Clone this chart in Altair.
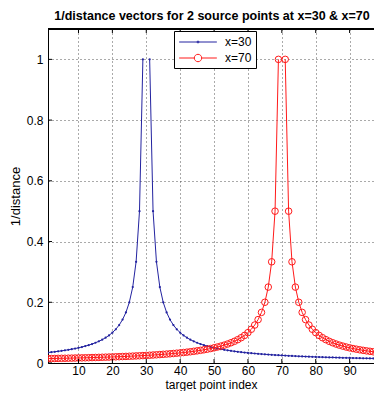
import altair as alt
import pandas as pd

FONT = "Liberation Sans"
BLUE = "#2323a0"
RED = "#ff1a1a"

IDX = list(range(1, 101))
SERIES = ["x=30", "x=70"]
SOURCE = [30, 70]
XTICKS = [10, 20, 30, 40, 50, 60, 70, 80, 90]
YTICKS = [0, 0.2, 0.4, 0.6, 0.8, 1]

X30 = [0.0345, 0.0357, 0.037, 0.0385, 0.04, 0.0417, 0.0435, 0.0455, 0.0476, 0.05,
       0.0526, 0.0556, 0.0588, 0.0625, 0.0667, 0.0714, 0.0769, 0.0833, 0.0909, 0.1,
       0.1111, 0.125, 0.1429, 0.1667, 0.2, 0.25, 0.3333, 0.5, 1.0, None,
       1.0, 0.5, 0.3333, 0.25, 0.2, 0.1667, 0.1429, 0.125, 0.1111, 0.1,
       0.0909, 0.0833, 0.0769, 0.0714, 0.0667, 0.0625, 0.0588, 0.0556, 0.0526, 0.05,
       0.0476, 0.0455, 0.0435, 0.0417, 0.04, 0.0385, 0.037, 0.0357, 0.0345, 0.0333,
       0.0323, 0.0313, 0.0303, 0.0294, 0.0286, 0.0278, 0.027, 0.0263, 0.0256, 0.025,
       0.0244, 0.0238, 0.0233, 0.0227, 0.0222, 0.0217, 0.0213, 0.0208, 0.0204, 0.02,
       0.0196, 0.0192, 0.0189, 0.0185, 0.0182, 0.0179, 0.0175, 0.0172, 0.0169, 0.0167,
       0.0164, 0.0161, 0.0159, 0.0156, 0.0154, 0.0152, 0.0149, 0.0147, 0.0145, 0.0143]

X70 = [0.0145, 0.0147, 0.0149, 0.0152, 0.0154, 0.0156, 0.0159, 0.0161, 0.0164, 0.0167,
       0.0169, 0.0172, 0.0175, 0.0179, 0.0182, 0.0185, 0.0189, 0.0192, 0.0196, 0.02,
       0.0204, 0.0208, 0.0213, 0.0217, 0.0222, 0.0227, 0.0233, 0.0238, 0.0244, 0.025,
       0.0256, 0.0263, 0.027, 0.0278, 0.0286, 0.0294, 0.0303, 0.0313, 0.0323, 0.0333,
       0.0345, 0.0357, 0.037, 0.0385, 0.04, 0.0417, 0.0435, 0.0455, 0.0476, 0.05,
       0.0526, 0.0556, 0.0588, 0.0625, 0.0667, 0.0714, 0.0769, 0.0833, 0.0909, 0.1,
       0.1111, 0.125, 0.1429, 0.1667, 0.2, 0.25, 0.3333, 0.5, 1.0, None,
       1.0, 0.5, 0.3333, 0.25, 0.2, 0.1667, 0.1429, 0.125, 0.1111, 0.1,
       0.0909, 0.0833, 0.0769, 0.0714, 0.0667, 0.0625, 0.0588, 0.0556, 0.0526, 0.05,
       0.0476, 0.0455, 0.0435, 0.0417, 0.04, 0.0385, 0.037, 0.0357, 0.0345, 0.0333]

rows = []
for name, src, vals in zip(SERIES, SOURCE, [X30, X70]):
    for i, v in zip(IDX, vals):
        if v is None:
            continue
        rows.append({"series": name, "idx": i, "val": v,
                     "seg": name + ("a" if i < src else "b")})
df = pd.DataFrame(rows)

W, H = 326, 334
XDOM = [1, 97.2]
YDOM = [0, 1.1]

xs = alt.Scale(domain=XDOM, nice=False, zero=False)
ys = alt.Scale(domain=YDOM, nice=False, zero=False)
cs = alt.Scale(domain=SERIES, range=[BLUE, RED])

x_axis = alt.Axis(values=XTICKS, title="target point index", grid=True,
                  gridDash=[1, 3], gridColor="#444", gridOpacity=0.9,
                  ticks=False, tickSize=0, domain=True, domainColor="black",
                  labelFont=FONT, labelFontSize=12, labelColor="black", labelPadding=2,
                  titleFont=FONT, titleFontSize=12, titleFontWeight="normal",
                  titleColor="black", titleY=28, titleBaseline="bottom")
y_axis = alt.Axis(values=YTICKS, title="1/distance", grid=True, format="~g",
                  gridDash=[1, 3], gridColor="#444", gridOpacity=0.9,
                  ticks=False, tickSize=0, domain=True, domainColor="black",
                  labelFont=FONT, labelFontSize=12, labelColor="black", labelPadding=5,
                  titleFont=FONT, titleFontSize=13, titleFontWeight="normal",
                  titleColor="black", titleX=-33, titleY=H / 2, titleAngle=270,
                  titleAlign="center", titleBaseline="middle")

LEG_SHAPES = [
    "M-2.9,0H2.9M-0.15,0A0.15,0.15 0 1,0 0.15,0A0.15,0.15 0 1,0 -0.15,0",
    "M-2.9,0H-0.57M0.57,0H2.9M-0.57,0A0.57,0.57 0 1,0 0.57,0A0.57,0.57 0 1,0 -0.57,0",
]
legend = alt.Legend(title=None, orient="none", legendX=126, legendY=2,
                    direction="vertical", fillColor="white", strokeColor="black",
                    padding=4, symbolSize=169, symbolStrokeWidth=1,
                    symbolFillColor="transparent",
                    symbolOffset=13, labelOffset=20, rowPadding=3,
                    labelFont=FONT, labelFontSize=12, labelColor="black")

X = alt.X("idx:Q", scale=xs, axis=x_axis)
Y = alt.Y("val:Q", scale=ys, axis=y_axis)

base = alt.Chart(df)
s30 = base.transform_filter(alt.datum.series == SERIES[0])
s70 = base.transform_filter(alt.datum.series == SERIES[1])

line30 = s30.mark_line(strokeWidth=1, clip=True, color=BLUE).encode(
    x=X, y=Y, detail="seg:N")
dots30 = s30.mark_circle(size=5, opacity=1, clip=True, color=BLUE).encode(x=X, y=Y)
line70 = s70.mark_line(strokeWidth=1, clip=True, color=RED).encode(
    x=X, y=Y, detail="seg:N")
circ70 = s70.mark_point(filled=False, size=43, strokeWidth=1, opacity=1,
                        clip=True, color=RED).encode(x=X, y=Y)

leg = base.transform_filter("false").mark_point(filled=False, opacity=1).encode(
    x=X, y=Y,
    color=alt.Color("series:N", scale=cs, legend=legend),
    shape=alt.Shape("series:N", scale=alt.Scale(domain=SERIES, range=LEG_SHAPES),
                    legend=legend),
)

XT = alt.X("t:Q", scale=xs, axis=x_axis)
YT = alt.Y("t:Q", scale=ys, axis=y_axis)
xt = alt.Chart(pd.DataFrame({"t": XTICKS}))
yt = alt.Chart(pd.DataFrame({"t": YTICKS}))
tick_b = xt.mark_rule(color="black", strokeWidth=1).encode(
    x=XT, y=alt.value(H), y2=alt.value(H - 4))
tick_t = xt.mark_rule(color="black", strokeWidth=1).encode(
    x=XT, y=alt.value(0), y2=alt.value(4))
tick_l = yt.mark_rule(color="black", strokeWidth=1).encode(
    y=YT, x=alt.value(0), x2=alt.value(4))
top_frame = xt.mark_rule(color="black", strokeWidth=1).encode(
    x=alt.value(0), x2=alt.value(W), y=alt.value(0))

chart = alt.layer(line30, dots30, line70, circ70, tick_b, tick_t, tick_l,
                  top_frame, leg).properties(
    width=W, height=H,
    title=alt.TitleParams(
        text="1/distance vectors for 2 source points at x=30 & x=70",
        font=FONT, fontSize=12.5, fontWeight="bold", color="black",
        anchor="middle", offset=6, dx=1),
    padding={"left": 40, "top": 21, "right": 0, "bottom": 28},
    autosize=alt.AutoSizeParams(type="none"),
).configure_view(stroke=None).configure(background="white")

chart.save("out.html", embed_options={"renderer": "svg", "actions": False})
